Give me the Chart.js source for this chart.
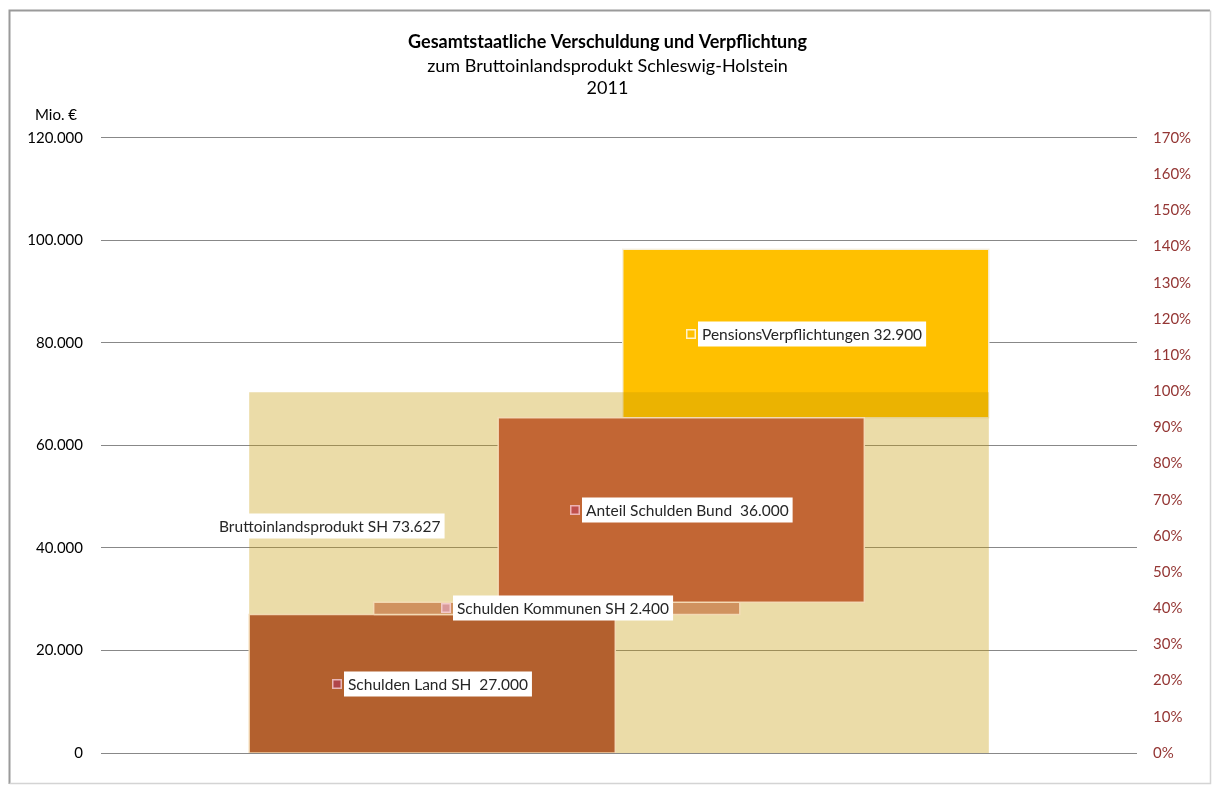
<!DOCTYPE html>
<html>
<head>
<meta charset="utf-8">
<script src="https://cdn.jsdelivr.net/npm/chart.js@4/dist/chart.umd.min.js"></script>
<style>
  body { margin: 0; background: #fff; }
  canvas { display: block; }
</style>
</head>
<body>
<canvas id="chart" width="1215" height="787"></canvas>
<script>
// chart values
var categories = ["Schulden Land SH", "Schulden Kommunen SH", "Anteil Schulden Bund", "PensionsVerpflichtungen", "Bruttoinlandsprodukt SH"];
var labelTexts = ["Schulden Land SH  27.000", "Schulden Kommunen SH 2.400", "Anteil Schulden Bund  36.000", "PensionsVerpflichtungen 32.900", "Bruttoinlandsprodukt SH 73.627"];
var lowValues = [0, 27000, 29400, 65400, 0];
var highValues = [27000, 29400, 65400, 98300, 70400];
var slotFrom = [1, 2, 3, 4, 1];
var slotTo = [1, 2, 3, 4, 4];
var leftTicks = [0, 20000, 40000, 60000, 80000, 100000, 120000];
var rightTicks = [0, 0.1, 0.2, 0.3, 0.4, 0.5, 0.6, 0.7, 0.8, 0.9, 1.0, 1.1, 1.2, 1.3, 1.4, 1.5, 1.6, 1.7];

// styles
var boxWidth = 2.94;
var fillColors = ["#B3602E", "#D0925F", "#C26634", "#FFC000", "rgba(197,154,3,0.345)"];
var edgeColors = ["rgba(245,222,185,0.9)", "rgba(245,222,185,0.9)", "rgba(245,222,185,0.9)", "rgba(245,240,225,0.95)", "rgba(0,0,0,0)"];
var drawOrder = [3, 2, 1, 5, 4];
var keyColors = ["#B0464A", "#D9999A", "#C0504D", "#FFC000", null];
var keyEdges = ["#E9B7B7", "#F2C9C9", "#EDB3B3", "#FFF2CC", null];

var FONT = "Lato, 'Open Sans', sans-serif";
Chart.defaults.font.family = FONT;

function formatDE(v) {
  return String(v).replace(/\B(?=(\d{3})+(?!\d))/g, ".");
}

var datasets = categories.map(function(name, i) {
  var x0 = slotFrom[i], x1 = slotTo[i] + boxWidth;
  var lo = lowValues[i], hi = highValues[i];
  return {
    type: "line",
    label: name,
    data: [{x: x0, y: lo}, {x: x0, y: hi}, {x: x1, y: hi}, {x: x1, y: lo}, {x: x0, y: lo}],
    backgroundColor: fillColors[i],
    borderColor: edgeColors[i],
    borderWidth: i === 4 ? 0 : 1.5,
    fill: "shape",
    pointRadius: 0,
    pointHoverRadius: 0,
    tension: 0,
    order: drawOrder[i],
    yAxisID: "y"
  };
});

var pagePlugin = {
  id: "page",
  beforeDraw: function(chart) {
    var ctx = chart.ctx;
    ctx.save();
    ctx.fillStyle = "#fff";
    ctx.fillRect(0, 0, chart.width, chart.height);
    ctx.restore();
  },
  afterDraw: function(chart) {
    var ctx = chart.ctx;
    ctx.save();
    ctx.strokeStyle = "#9a9a9a";
    ctx.lineWidth = 2;
    ctx.beginPath();
    ctx.moveTo(9.5, 784);
    ctx.lineTo(9.5, 10.5);
    ctx.lineTo(1210, 10.5);
    ctx.stroke();
    ctx.strokeStyle = "#d4d4d4";
    ctx.lineWidth = 1.5;
    ctx.beginPath();
    ctx.moveTo(1210.5, 10.5);
    ctx.lineTo(1210.5, 783.5);
    ctx.lineTo(9.5, 783.5);
    ctx.stroke();
    ctx.fillStyle = "#000";
    ctx.font = "15px " + FONT;
    ctx.textBaseline = "middle";
    ctx.textAlign = "left";
    ctx.fillText("Mio. €", 35, 115);
    ctx.restore();
  }
};

var labelPlugin = {
  id: "boxLabels",
  afterDatasetsDraw: function(chart) {
    var ctx = chart.ctx;
    var xs = chart.scales.x, ys = chart.scales.y;
    ctx.save();
    ctx.font = "15.5px " + FONT;
    ctx.textBaseline = "middle";
    ctx.textAlign = "left";
    categories.forEach(function(name, i) {
      var text = labelTexts[i];
      var bw = ctx.measureText(text).width + 8;
      var bh = 25;
      var hasKey = keyColors[i] !== null;
      var total = bw + (hasKey ? 12 : 0);
      var cx, cy;
      if (hasKey) {
        cx = xs.getPixelForValue((slotFrom[i] + slotTo[i] + boxWidth) / 2);
        cy = ys.getPixelForValue((lowValues[i] + highValues[i]) / 2);
      } else {
        cx = xs.getPixelForValue(slotFrom[i]) + 81;
        cy = ys.getPixelForValue(highValues[i] * 0.63);
      }
      var left = Math.round(cx - total / 2);
      cy = Math.round(cy);
      if (hasKey) {
        ctx.fillStyle = keyEdges[i];
        ctx.fillRect(left, cy - 5, 10, 10);
        ctx.fillStyle = keyColors[i];
        ctx.fillRect(left + 1.5, cy - 3.5, 7, 7);
        left += 12;
      }
      ctx.fillStyle = "#fff";
      ctx.fillRect(left, cy - bh / 2, bw, bh);
      ctx.fillStyle = "#262626";
      ctx.fillText(text, left + 4, cy + 1);
    });
    ctx.restore();
  }
};

new Chart(document.getElementById("chart"), {
  type: "line",
  data: { datasets: datasets },
  options: {
    responsive: false,
    animation: false,
    events: [],
    layout: { padding: { top: 0, bottom: 34, left: 0, right: 0 } },
    plugins: {
      legend: { display: false },
      tooltip: { enabled: false },
      title: {
        display: true,
        text: "Gesamtstaatliche Verschuldung und Verpflichtung",
        color: "#000",
        font: { size: 18, weight: "bold", lineHeight: 1.2 },
        padding: { top: 31, bottom: 3 }
      },
      subtitle: {
        display: true,
        text: ["zum Bruttoinlandsprodukt Schleswig-Holstein", "2011"],
        color: "#000",
        font: { size: 18, lineHeight: 1.222 },
        padding: { top: 0, bottom: 38.4 }
      }
    },
    scales: {
      x: {
        type: "linear",
        display: false,
        min: -0.19,
        max: 8.13
      },
      y: {
        position: "left",
        min: 0,
        max: 120000,
        afterBuildTicks: function(scale) {
          scale.ticks = leftTicks.map(function(v) { return { value: v }; });
        },
        afterFit: function(scale) { scale.width = 101; },
        border: { display: false },
        grid: { color: "#888888", lineWidth: 1, drawTicks: false },
        ticks: {
          padding: 18,
          color: "#000",
          font: { size: 15 },
          callback: function(v) { return formatDE(v); }
        }
      },
      y1: {
        position: "right",
        min: 0,
        max: 1.7,
        afterBuildTicks: function(scale) {
          scale.ticks = rightTicks.map(function(v) { return { value: v }; });
        },
        afterFit: function(scale) { scale.width = 78; },
        border: { display: false },
        grid: { display: false, drawTicks: false },
        ticks: {
          padding: 16,
          color: "#943634",
          font: { size: 15 },
          callback: function(v) { return Math.round(v * 100) + "%"; }
        }
      }
    }
  },
  plugins: [pagePlugin, labelPlugin]
});
</script>
</body>
</html>
